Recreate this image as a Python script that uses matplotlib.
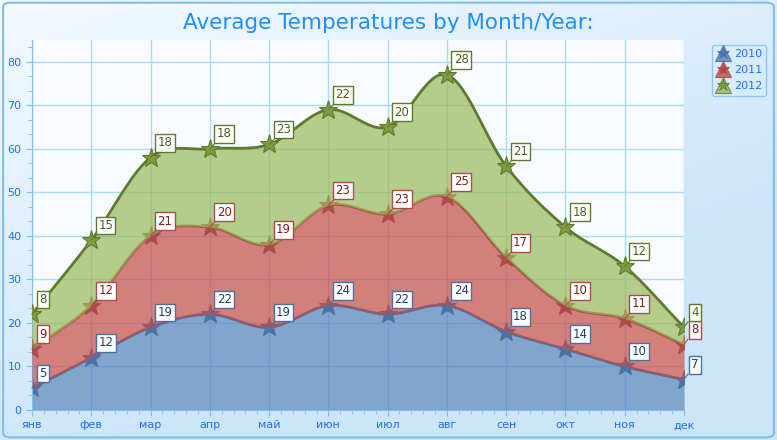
import numpy as np
import matplotlib.pyplot as plt
from matplotlib.ticker import AutoMinorLocator, MultipleLocator
from matplotlib.patches import FancyBboxPatch
from matplotlib.lines import Line2D
from matplotlib.legend_handler import HandlerTuple

# data
months = ["янв", "фев", "мар", "апр", "май", "июн", "июл", "авг", "сен", "окт", "ноя", "дек"]
years = ["2010", "2011", "2012"]
t2010 = [5, 12, 19, 22, 19, 24, 22, 24, 18, 14, 10, 7]
t2011 = [9, 12, 21, 20, 19, 23, 23, 25, 17, 10, 11, 8]
t2012 = [8, 15, 18, 18, 23, 22, 20, 28, 21, 18, 12, 4]

fills = ["#5081ba", "#c54c45", "#99ba58"]
stars = ["#4a74a8", "#b04a48", "#7f9b42"]
edges = ["#4b6f9e", "#a84e4b", "#5f7a2f"]
textc = ["#1f3f6a", "#7a1f1c", "#4a5e1f"]


def spline(y, n=30):
    # Catmull-Rom on uniform x
    y = np.asarray(y, float)
    m = np.zeros_like(y)
    m[1:-1] = (y[2:] - y[:-2]) / 2
    m[0] = y[1] - y[0]
    m[-1] = y[-1] - y[-2]
    xs, ys = [], []
    for i in range(len(y) - 1):
        t = np.linspace(0, 1, n, endpoint=(i == len(y) - 2))
        h00 = 2 * t**3 - 3 * t**2 + 1
        h10 = t**3 - 2 * t**2 + t
        h01 = -2 * t**3 + 3 * t**2
        h11 = t**3 - t**2
        xs.append(i + t)
        ys.append(h00 * y[i] + h10 * m[i] + h01 * y[i + 1] + h11 * m[i + 1])
    return np.concatenate(xs), np.concatenate(ys)


fig = plt.figure(figsize=(7.77, 4.4), dpi=100)

# background gradient
bg = fig.add_axes([0, 0, 1, 1], zorder=-10)
gx, gy = np.meshgrid(np.linspace(0, 1, 200), np.linspace(0, 1, 200))
g = np.clip((gx * 0.6 + gy * 0.9) / 1.0, 0, 1)
c0 = np.array([0.96, 0.98, 1.0])
c1 = np.array([0.80, 0.90, 0.98])
img = c0[None, None, :] * (1 - g[..., None]) + c1[None, None, :] * g[..., None]
bg.imshow(img, extent=[0, 1, 0, 1], aspect="auto")
bg.add_patch(FancyBboxPatch((0.004, 0.006), 0.992, 0.988, boxstyle="round,pad=0,rounding_size=0.01",
                            fill=False, ec="#7fbff0", lw=1.5, transform=bg.transAxes))
bg.set_xlim(0, 1)
bg.set_ylim(0, 1)
bg.axis("off")

ax = fig.add_axes([32 / 777, 30 / 440, 652 / 777, 370 / 440])
ax.set_facecolor("#f7fbff")

x = np.arange(len(months))
series = [np.array(t2010), np.array(t2011), np.array(t2012)]
cum = np.cumsum(series, axis=0)

prev = None
for k in range(3):
    sx, sy = spline(cum[k])
    lower = np.zeros_like(sy) if prev is None else prev
    ax.fill_between(sx, lower, sy, color=fills[k], alpha=0.7, lw=0, zorder=2 + k)
    ax.plot(sx, sy, color=edges[k], lw=2, zorder=2.2 + k)
    ax.plot(x, cum[k], ls="none", marker="*", ms=14, mfc=stars[k], mec=edges[k], mew=0.8, zorder=2.5 + k)
    prev = sy

for k in range(3):
    for i in range(len(x)):
        ax.annotate(str(series[k][i]), (x[i], cum[k][i]), xytext=(5, 6), textcoords="offset points",
                    ha="left", va="bottom", fontsize=8.5, color=textc[k], zorder=8,
                    bbox=dict(boxstyle="square,pad=0.2", fc="white", ec=edges[k], lw=1),
                    arrowprops=dict(arrowstyle="-", color=edges[k], lw=0.8, shrinkA=0, shrinkB=0))

ax.set_xlim(0, 11)
ax.set_ylim(0, 85)
ax.set_xticks(x)
ax.set_xticklabels(months)
ax.yaxis.set_major_locator(MultipleLocator(10))
ax.xaxis.set_minor_locator(AutoMinorLocator(5))
ax.yaxis.set_minor_locator(AutoMinorLocator(3))
ax.grid(True, which="major", color="#a9dcf7", lw=1, zorder=0)
ax.set_axisbelow(True)
for s in ["top", "right"]:
    ax.spines[s].set_visible(False)
for s in ["left", "bottom"]:
    ax.spines[s].set_color("#7fbff0")
ax.tick_params(which="both", colors="#7fbff0", labelcolor="#1f6fff", labelsize=8)
ax.tick_params(which="major", length=4)
ax.tick_params(which="minor", length=3)

fig.text(0.5, 0.948, "Average Temperatures by Month/Year:", ha="center", va="center",
         fontsize=15.5, color="#1e90ff")

handles = []
for k in range(3):
    tri = Line2D([], [], ls="none", marker="^", ms=12, mfc=fills[k], alpha=0.8, mec=edges[k], mew=0.8)
    star = Line2D([], [], ls="none", marker="*", ms=9, mfc=stars[k], mec=edges[k], mew=0.5)
    handles.append((tri, star))
leg = fig.legend(handles, years, loc="upper left", bbox_to_anchor=(706 / 777, 1 - 39 / 440),
                 handler_map={tuple: HandlerTuple(ndivide=1)}, fontsize=8, frameon=True,
                 fancybox=True, handlelength=1.2, handletextpad=0.4, borderpad=0.4, labelspacing=0.55)
leg.get_frame().set_facecolor("#d8ecfc")
leg.get_frame().set_edgecolor("#7fbff0")
for t in leg.get_texts():
    t.set_color("#1f6fff")

fig.savefig("out.png", dpi=100)
